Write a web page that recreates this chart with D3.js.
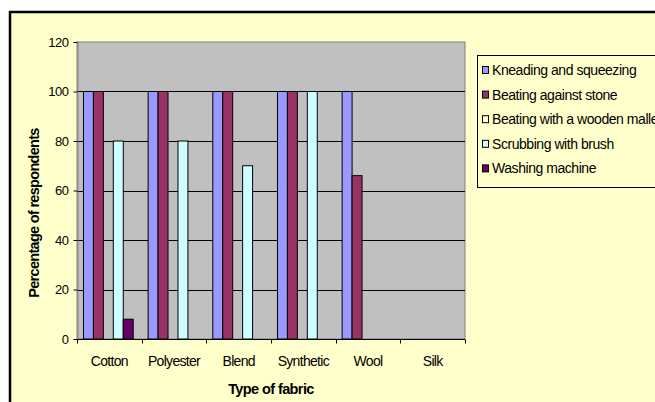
<!DOCTYPE html>
<html>
<head>
<meta charset="utf-8">
<script src="https://cdn.jsdelivr.net/npm/d3@7"></script>
<style>
  html, body { margin: 0; padding: 0; background: #ffffff; overflow: hidden; }
  svg { display: block; font-family: "Liberation Sans", Arial, sans-serif; }
</style>
</head>
<body>
<svg id="chart" width="655" height="402"></svg>
<script>
// Washing methods used per fabric type (percentage of respondents)
const categories = ["Cotton", "Polyester", "Blend", "Synthetic", "Wool", "Silk"];
const seriesNames = [
  "Kneading and squeezing",
  "Beating against stone",
  "Beating with a wooden mallet",
  "Scrubbing with brush",
  "Washing machine"
];
const kneading   = [100, 100, 100, 100, 100, 0];
const stone      = [100, 100, 100, 100, 66, 0];
const mallet     = [0, 0, 0, 0, 0, 0];
const brush      = [80, 80, 70, 100, 0, 0];
const machine    = [8, 0, 0, 0, 0, 0];
const yTicks     = [0, 20, 40, 60, 80, 100, 120];
const seriesColors = ["#9999FF", "#993366", "#FFFFCC", "#CCFFFF", "#660066"];

const seriesValues = [kneading, stone, mallet, brush, machine];

const svg = d3.select("#chart");

// Chart area frame
svg.append("rect")
  .attr("x", 10).attr("y", 12)
  .attr("width", 700).attr("height", 450)
  .attr("fill", "#FFFFCC")
  .attr("stroke", "#000").attr("stroke-width", 2.5);

const plot = { left: 77, top: 42, right: 465, bottom: 339 };

const y = d3.scaleLinear().domain([0, 120]).range([plot.bottom, plot.top]);
const x0 = d3.scaleBand().domain(categories).range([plot.left, plot.right]).padding(0);
const gap = x0.bandwidth() * 1.5 / 6.5;
const x1 = d3.scaleBand().domain(d3.range(seriesNames.length))
  .range([gap / 2, x0.bandwidth() - gap / 2]).padding(0);

// Plot background
svg.append("rect")
  .attr("x", plot.left).attr("y", plot.top)
  .attr("width", plot.right - plot.left).attr("height", plot.bottom - plot.top)
  .attr("fill", "#C0C0C0")
  .attr("stroke", "#808080").attr("stroke-width", 1);

// Horizontal gridlines
svg.append("g")
  .selectAll("line")
  .data(yTicks.filter(d => d > 0 && d < 120))
  .join("line")
  .attr("x1", plot.left).attr("x2", plot.right)
  .attr("y1", d => Math.round(y(d)) + 0.5).attr("y2", d => Math.round(y(d)) + 0.5)
  .attr("stroke", "#000").attr("stroke-width", 1);

// Bars
const rows = [];
categories.forEach((c, ci) => {
  seriesValues.forEach((vals, si) => {
    if (vals[ci] > 0) rows.push({ cat: c, s: si, v: vals[ci] });
  });
});
svg.append("g")
  .selectAll("rect")
  .data(rows)
  .join("rect")
  .attr("x", d => x0(d.cat) + x1(d.s) - 1)
  .attr("y", d => y(d.v))
  .attr("width", x1.bandwidth())
  .attr("height", d => y(0) - y(d.v))
  .attr("fill", d => seriesColors[d.s])
  .attr("stroke", "#000").attr("stroke-width", 1);

// Y axis
const yAxis = d3.axisLeft(y).tickValues(yTicks).tickSize(4).tickPadding(5);
const gy = svg.append("g")
  .attr("transform", `translate(${plot.left + 0.5},0)`)
  .call(yAxis);
gy.select(".domain").attr("stroke", "#808080");
gy.selectAll(".tick line").attr("stroke", "#000");
gy.selectAll(".tick text")
  .attr("fill", "#000")
  .style("font-size", "13px")
  .style("letter-spacing", "-0.5px")
  .style("font-family", "'Liberation Sans', Arial, sans-serif");

// X axis with ticks at category boundaries
const gx = svg.append("g")
  .attr("transform", `translate(0,${plot.bottom + 0.5})`);
gx.append("line")
  .attr("x1", plot.left).attr("x2", plot.right)
  .attr("y1", 0).attr("y2", 0)
  .attr("stroke", "#000");
const bounds = categories.map(c => x0(c)).concat([plot.right]);
gx.selectAll("line.tk")
  .data(bounds)
  .join("line")
  .attr("class", "tk")
  .attr("x1", d => Math.round(d) + 0.5).attr("x2", d => Math.round(d) + 0.5)
  .attr("y1", 0).attr("y2", 4)
  .attr("stroke", "#000");
gx.selectAll("text")
  .data(categories)
  .join("text")
  .attr("x", d => x0(d) + x0.bandwidth() / 2)
  .attr("y", 26)
  .attr("text-anchor", "middle")
  .style("font-size", "14px")
  .style("letter-spacing", "-0.7px")
  .attr("fill", "#000")
  .text(d => d);

// Axis titles
svg.append("text")
  .attr("x", (plot.left + plot.right) / 2)
  .attr("y", 394)
  .attr("text-anchor", "middle")
  .style("font-size", "14.5px")
  .style("letter-spacing", "-0.6px")
  .style("font-weight", "bold")
  .text("Type of fabric");

svg.append("text")
  .attr("transform", "translate(39,213) rotate(-90)")
  .attr("text-anchor", "middle")
  .style("font-size", "14.5px")
  .style("letter-spacing", "-0.7px")
  .style("font-weight", "bold")
  .text("Percentage of respondents");

// Legend
const legend = svg.append("g");
legend.append("rect")
  .attr("x", 477.5).attr("y", 55.5)
  .attr("width", 300).attr("height", 132)
  .attr("fill", "#FFFFCC")
  .attr("stroke", "#000").attr("stroke-width", 1);
const li = legend.selectAll("g.item")
  .data(seriesNames)
  .join("g")
  .attr("class", "item")
  .attr("transform", (d, i) => `translate(482,${70 + i * 24.6})`);
li.append("rect")
  .attr("x", 0.5).attr("y", -3.5)
  .attr("width", 6).attr("height", 7)
  .attr("fill", (d, i) => seriesColors[i])
  .attr("stroke", "#000").attr("stroke-width", 1);
li.append("text")
  .attr("x", 10).attr("y", 5)
  .style("font-size", "14px")
  .style("letter-spacing", "-0.45px")
  .attr("fill", "#000")
  .text(d => d);
</script>
</body>
</html>
